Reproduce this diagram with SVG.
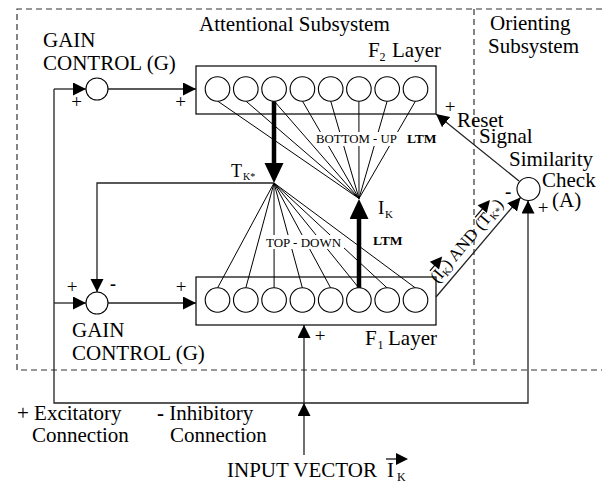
<svg xmlns="http://www.w3.org/2000/svg" width="602" height="483" viewBox="0 0 602 483">
<style>
text{font-family:"Liberation Serif","Times New Roman",serif;fill:#000}
.lbl{font-size:21px}
.pm{font-size:19px;text-anchor:middle}
.b{font-weight:bold}
.ln{stroke:#222;stroke-width:1.3;fill:none}
.fan{stroke:#000;stroke-width:1;fill:none}
.thick{stroke:#000;stroke-width:4.5;fill:none}
.dash{stroke:#333;stroke-width:1.2;fill:none;stroke-dasharray:6 4}
.cell{fill:#fff;stroke:#000;stroke-width:1.1}
.box{fill:#fff;stroke:#000;stroke-width:1.2}
.bg{fill:#fff;stroke:none}
</style>
<defs>
<marker id="ah" markerUnits="userSpaceOnUse" markerWidth="14" markerHeight="14" refX="13" refY="6.5" orient="auto"><path d="M0,0L13,6.5L0,13z" fill="#000"/></marker>
<marker id="ahT" markerUnits="userSpaceOnUse" markerWidth="21" markerHeight="20" refX="0" refY="9.5" orient="auto"><path d="M0,0L20,9.5L0,19z" fill="#000"/></marker>
</defs>

<g id="frame">
<path class="dash" d="M602,9H17V370H602"/>
<path class="dash" d="M474,9V368"/>
</g>

<g id="F2-layer">
<rect class="box" x="196" y="66" width="240" height="48"/>
</g>
<g id="F1-layer">
<rect class="box" x="196" y="277" width="240" height="48"/>
</g>

<g id="connectors">
<path class="fan" d="M359,198.5L217.5,101M359,198.5L245.8,101M359,198.5L274.1,101M359,198.5L302.4,101M359,198.5L330.7,101M359,198.5L358.9,101M359,198.5L387.2,101M359,198.5L415.5,101"/>
<path class="fan" d="M274,183L217.5,288M274,183L245.8,288M274,183L274.1,288M274,183L302.4,288M274,183L330.7,288M274,183L358.9,288M274,183L387.2,288M274,183L415.5,288"/>
<path class="thick" d="M274,101V163" marker-end="url(#ahT)"/>
<path class="thick" d="M359,288V219" marker-end="url(#ahT)"/>
<path class="ln" d="M54,89H86" marker-end="url(#ah)"/>
<path class="ln" d="M108,89H196" marker-end="url(#ah)"/>
<path class="ln" d="M54,89V403H528V200.5" marker-end="url(#ah)"/>
<path class="ln" d="M54,303H86" marker-end="url(#ah)"/>
<path class="ln" d="M108,303H196" marker-end="url(#ah)"/>
<path class="ln" d="M274,183H97V292" marker-end="url(#ah)"/>
<path class="ln" d="M304,455V403" marker-end="url(#ah)"/>
<path class="ln" d="M304,403V325" marker-end="url(#ah)"/>
<path class="ln" d="M436,297L520.5,197.5" marker-end="url(#ah)"/>
<path class="ln" d="M519,181L436,114" marker-end="url(#ah)"/>
</g>

<g id="labels-bg">
<rect class="bg" x="314" y="132" width="85" height="14"/>
<rect class="bg" x="264" y="235" width="80" height="14"/>
</g>

<g id="F2-cells">
<circle class="cell" cx="217.5" cy="89" r="12.3"/>
<circle class="cell" cx="245.8" cy="89" r="12.3"/>
<circle class="cell" cx="274.1" cy="89" r="12.3"/>
<circle class="cell" cx="302.4" cy="89" r="12.3"/>
<circle class="cell" cx="330.7" cy="89" r="12.3"/>
<circle class="cell" cx="358.9" cy="89" r="12.3"/>
<circle class="cell" cx="387.2" cy="89" r="12.3"/>
<circle class="cell" cx="415.5" cy="89" r="12.3"/>
</g>
<g id="F1-cells">
<circle class="cell" cx="217.5" cy="300" r="12.3"/>
<circle class="cell" cx="245.8" cy="300" r="12.3"/>
<circle class="cell" cx="274.1" cy="300" r="12.3"/>
<circle class="cell" cx="302.4" cy="300" r="12.3"/>
<circle class="cell" cx="330.7" cy="300" r="12.3"/>
<circle class="cell" cx="358.9" cy="300" r="12.3"/>
<circle class="cell" cx="387.2" cy="300" r="12.3"/>
<circle class="cell" cx="415.5" cy="300" r="12.3"/>
</g>

<g id="gain-top">
<circle class="cell" cx="97" cy="89" r="11"/>
<text class="lbl" x="43" y="47">GAIN</text>
<text class="lbl" x="43" y="70">CONTROL (G)</text>
<text class="pm" x="76.5" y="108">+</text>
</g>
<g id="gain-bottom">
<circle class="cell" cx="97" cy="303" r="11"/>
<text class="lbl" x="72" y="337">GAIN</text>
<text class="lbl" x="72" y="360">CONTROL (G)</text>
<text class="pm" x="72" y="293">+</text>
<text class="b" x="110" y="290" font-size="18">-</text>
</g>
<g id="similarity">
<circle class="cell" cx="528.5" cy="189" r="11.5"/>
<text class="lbl" x="509" y="166">Similarity</text>
<text class="lbl" x="542" y="187">Check</text>
<text class="lbl" x="552" y="207">(A)</text>
<text class="b" x="505" y="198" font-size="19">-</text>
<text class="pm" x="543" y="214">+</text>
</g>

<g id="texts">
<text class="lbl" x="199" y="31">Attentional Subsystem</text>
<text class="lbl" x="490" y="30">Orienting</text>
<text class="lbl" x="488" y="53">Subsystem</text>
<text class="lbl" x="368" y="57">F</text>
<text x="379.5" y="61" font-size="12">2</text>
<text class="lbl" x="392" y="57">Layer</text>
<text class="pm" x="180.5" y="108">+</text>
<text x="316" y="143" font-size="12.8">BOTTOM - UP</text>
<text class="b" x="407" y="143" font-size="13.5">LTM</text>
<text x="231" y="177" font-size="18">T</text>
<text x="243" y="180" font-size="10">K*</text>
<text x="378" y="214" font-size="19">I</text>
<text x="385" y="218" font-size="11">K</text>
<text x="266" y="247" font-size="13">TOP - DOWN</text>
<text class="b" x="373" y="245" font-size="13.5">LTM</text>
<text class="pm" x="181" y="293">+</text>
<text class="lbl" x="365" y="345">F</text>
<text x="377.5" y="349" font-size="12">1</text>
<text class="lbl" x="388" y="345">Layer</text>
<text class="pm" x="320" y="342">+</text>
<text class="pm" x="450" y="113">+</text>
<text class="lbl" x="457" y="127">Reset</text>
<text class="lbl" x="479" y="143">Signal</text>
<text class="lbl" x="17" y="420">+ Excitatory</text>
<text class="lbl" x="32" y="442">Connection</text>
<text class="lbl" x="157" y="420"><tspan class="b">-</tspan> Inhibitory</text>
<text class="lbl" x="170" y="442">Connection</text>
<text class="lbl" x="227" y="477">INPUT VECTOR</text>
<text class="lbl" x="387" y="477">I</text>
<text x="397" y="481" font-size="12">K</text>
<path d="M386,459H397" stroke="#000" stroke-width="1.2"/>
<path d="M396,453L408,459L396,465z" fill="#000"/>
<g transform="translate(437.4,283.8) rotate(-49.8)">
<text font-size="17" x="0" y="0">(I<tspan font-size="10.5" dy="3">K</tspan><tspan dy="-3">) AND (T</tspan><tspan font-size="10.5" dy="3">K*</tspan><tspan dy="-3">)</tspan></text>
<path d="M5,-14H13" stroke="#000" stroke-width="1.2"/>
<path d="M12,-20L24,-14L12,-8z" fill="#000"/>
<path d="M75,-14H87" stroke="#000" stroke-width="1.2"/>
<path d="M86,-20L98,-14L86,-8z" fill="#000"/>
</g>
</g>
</svg>
